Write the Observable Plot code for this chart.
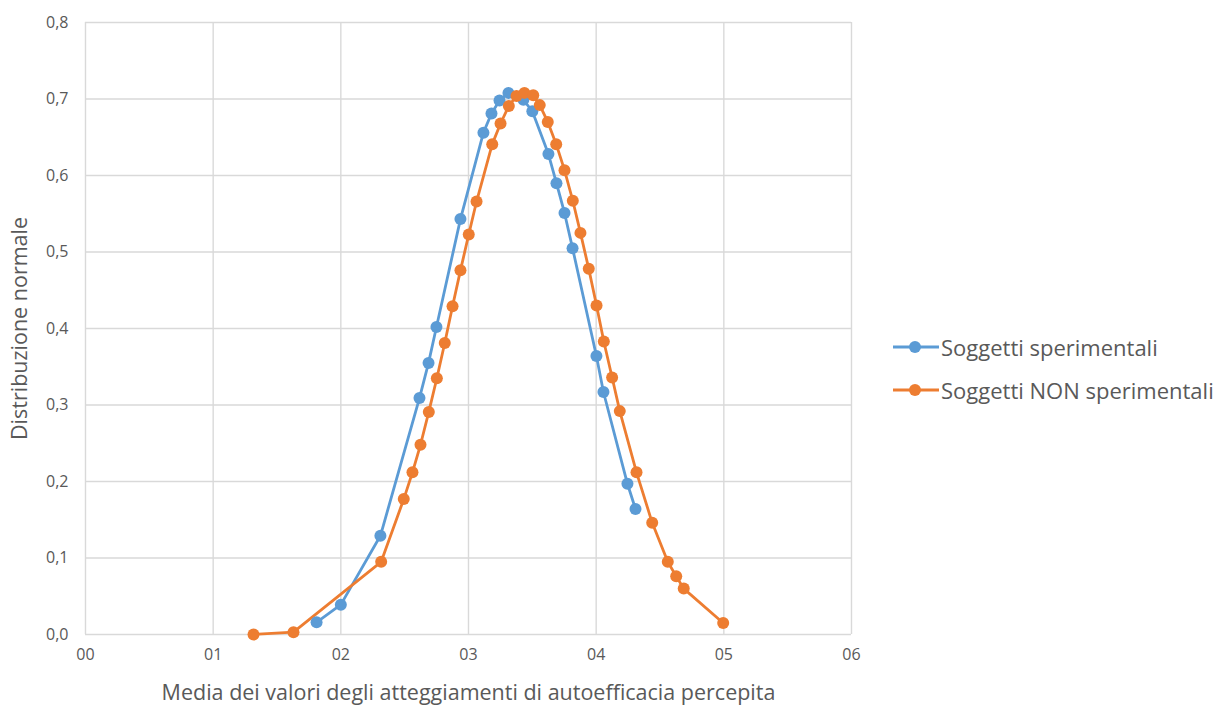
<!DOCTYPE html>
<html><head><meta charset="utf-8">
<script src="https://cdn.jsdelivr.net/npm/d3@7"></script>
<script src="https://cdn.jsdelivr.net/npm/@observablehq/plot@0.6"></script>
<style>
body{margin:0;background:#fff;font-family:"Open Sans",sans-serif}
#wrap{position:relative;width:1222px;height:713px}
.leg{position:absolute;left:893px;display:flex;align-items:center;font-size:22px;color:#595959;white-space:nowrap}
.leg svg{margin-right:2px}
</style></head>
<body><div id="wrap"></div>
<script>
const seriesNames = ["Soggetti sperimentali", "Soggetti NON sperimentali"];
const seriesColors = ["#5b9bd5", "#ed7d31"];
const expX = [1.81,2.00,2.31,2.616,2.687,2.749,2.937,3.117,3.18,3.243,3.313,3.43,3.50,3.626,3.689,3.752,3.815,4.002,4.057,4.245,4.308];
const expY = [0.016,0.039,0.129,0.309,0.355,0.402,0.543,0.656,0.681,0.698,0.708,0.699,0.684,0.628,0.590,0.551,0.505,0.364,0.317,0.197,0.164];
const nonX = [1.316,1.629,2.316,2.493,2.561,2.624,2.689,2.752,2.814,2.875,2.937,3.002,3.063,3.186,3.251,3.316,3.376,3.438,3.507,3.558,3.621,3.687,3.752,3.817,3.877,3.942,4.003,4.06,4.125,4.185,4.316,4.439,4.561,4.627,4.686,4.995];
const nonY = [0.0,0.003,0.095,0.177,0.212,0.248,0.291,0.335,0.381,0.429,0.476,0.523,0.566,0.641,0.668,0.691,0.704,0.708,0.705,0.692,0.670,0.641,0.607,0.567,0.525,0.478,0.430,0.383,0.336,0.292,0.212,0.146,0.095,0.076,0.060,0.015];
const xTicks = [0,1,2,3,4,5,6];
const yTicks = [0,0.1,0.2,0.3,0.4,0.5,0.6,0.7,0.8];
const xLabel = "Media dei valori degli atteggiamenti di autoefficacia percepita";
const yLabel = "Distribuzione normale";

const data = [
  ...expX.map((x,i)=>({x, y: expY[i], s: seriesNames[0]})),
  ...nonX.map((x,i)=>({x, y: nonY[i], s: seriesNames[1]}))
];

const chart = Plot.plot({
  width: 1222, height: 713,
  marginLeft: 85, marginRight: 371, marginTop: 22, marginBottom: 79,
  style: {fontFamily: '"Open Sans", sans-serif', fontSize: "16px", color: "#595959", background: "#fff"},
  x: {domain: [0, 6]},
  y: {domain: [0, 0.8]},
  color: {domain: seriesNames, range: seriesColors},
  marks: [
    Plot.ruleX(xTicks, {stroke: "#d9d9d9", strokeWidth: 1.4, strokeOpacity: 1}),
    Plot.ruleY(yTicks, {stroke: "#d9d9d9", strokeWidth: 1.4, strokeOpacity: 1}),
    Plot.axisX(xTicks, {tickSize: 0, tickPadding: 14, tickFormat: d => String(d).padStart(2, "0"), fontSize: 16,
      label: xLabel, labelAnchor: "center", labelArrow: "none", labelOffset: 65}),
    Plot.axisY(yTicks, {tickSize: 0, tickPadding: 17, tickFormat: d => d3.format(".1f")(d).replace(".", ","), fontSize: 16,
      label: yLabel, labelAnchor: "center", labelArrow: "none", labelOffset: 74}),
    Plot.line(data, {x: "x", y: "y", z: "s", stroke: "s", strokeWidth: 2.8}),
    Plot.dot(data, {x: "x", y: "y", fill: "s", r: 6})
  ]
});
chart.style.position = "absolute";
chart.style.left = "0"; chart.style.top = "0";
const wrap = document.getElementById("wrap");
wrap.appendChild(chart);
chart.querySelectorAll("g[aria-label='x-axis label'] text, g[aria-label='y-axis label'] text").forEach(t => t.style.fontSize = "21.5px");

const legTops = [347, 390];
seriesNames.forEach((name, i) => {
  const d = document.createElement("div");
  d.className = "leg";
  d.style.top = (legTops[i] - 15) + "px";
  d.style.height = "30px";
  d.innerHTML = `<svg width="46" height="30"><line x1="0" x2="46" y1="15" y2="15" stroke="${seriesColors[i]}" stroke-width="2.8"/><circle cx="22" cy="15" r="6" fill="${seriesColors[i]}"/></svg><span>${name}</span>`;
  wrap.appendChild(d);
});
</script>
</body></html>
